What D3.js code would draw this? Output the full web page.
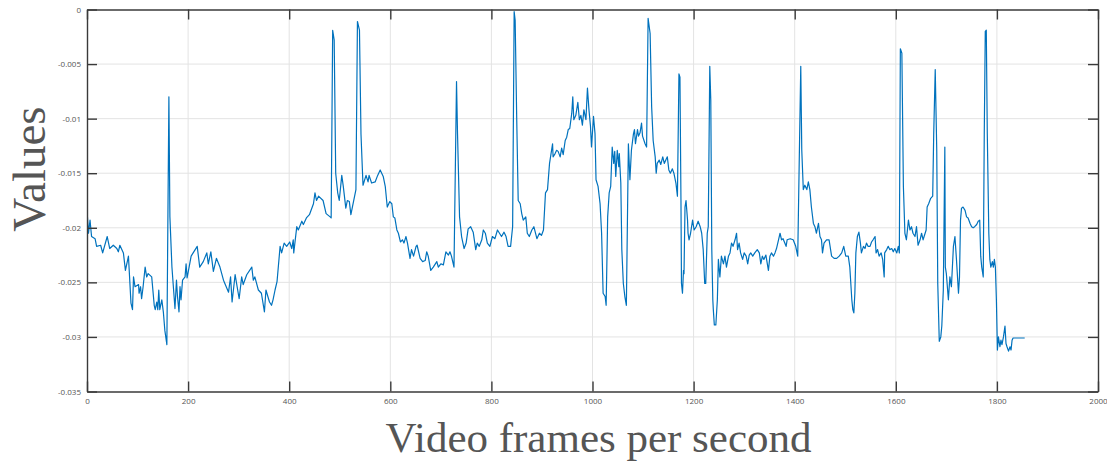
<!DOCTYPE html>
<html>
<head>
<meta charset="utf-8">
<script src="https://cdn.jsdelivr.net/npm/d3@7"></script>
<style>
  html, body { margin: 0; padding: 0; background: #fff; }
  svg { display: block; }
</style>
</head>
<body>
<div id="chart"></div>
<script>
// frame index and the value at that frame
const frames = [
  0, 3, 6, 9, 16, 19, 27, 31, 40, 45,
  52, 59, 62, 65, 72, 76, 82, 87, 90, 92,
  95, 102, 103, 106, 108, 111, 115, 118, 121, 128,
  133, 135, 138, 140, 142, 144, 148, 151, 154, 158,
  162, 164, 168, 174, 177, 179, 182, 184, 186, 189,
  194, 196, 198, 202, 206, 218, 223, 230, 237, 240,
  245, 250, 256, 263, 270, 280, 284, 287, 293, 301,
  306, 309, 316, 326, 329, 332, 339, 345, 351, 354,
  361, 365, 368, 372, 376, 382, 385, 390, 395, 401,
  405, 408, 409, 415, 418, 425, 428, 434, 440, 448,
  451, 454, 458, 467, 473, 481, 483, 486, 489, 492,
  496, 499, 504, 507, 512, 515, 519, 522, 525, 532,
  535, 539, 542, 546, 552, 556, 558, 563, 570, 575,
  580,
  586, 590, 594, 599, 603, 606, 609, 613, 616, 620,
  624, 627, 631, 634, 639, 642, 646, 651, 653, 659,
  664, 669, 672, 675, 680, 685, 692, 695, 700, 705,
  710, 715, 718, 721, 726, 731, 733, 737, 741, 746,
  750, 754, 759, 764, 769, 772, 776, 781, 784, 788,
  792, 797, 802, 807, 812, 816, 820, 825, 829, 833,
  838, 842, 845, 847, 850, 853, 857, 860, 863, 868,
  871, 875, 880, 884, 890, 895, 899, 903, 907, 911,
  915, 918, 921, 922, 926, 929, 932, 936, 939, 942,
  946, 949, 952, 955, 959, 961, 963, 967, 971, 974,
  977, 980, 983, 987, 990, 993, 996, 998, 1002, 1005,
  1007, 1011, 1015, 1018, 1021, 1025, 1027, 1030, 1033, 1036,
  1039, 1042, 1044, 1046, 1049, 1052, 1053, 1056, 1058, 1061,
  1064, 1067, 1071, 1074, 1077, 1081, 1083, 1085, 1089, 1091,
  1094, 1097, 1099, 1104, 1107, 1110, 1114, 1117, 1120, 1124,
  1126, 1128, 1132, 1135, 1139, 1142, 1145, 1148, 1151, 1154,
  1158, 1161, 1165, 1168, 1171,
  1173, 1175, 1176, 1178, 1180, 1181, 1183, 1185, 1188, 1189,
  1191, 1194, 1198, 1201, 1205, 1209, 1213, 1216, 1219, 1222,
  1224, 1227, 1229, 1232, 1234, 1236, 1238, 1239, 1241, 1244,
  1247, 1249, 1252, 1255, 1259, 1262, 1265, 1269, 1272, 1275,
  1278, 1282, 1285, 1287, 1290, 1293, 1297, 1300, 1304, 1307,
  1310, 1313, 1317, 1321, 1326, 1330, 1333, 1336, 1339, 1343,
  1348, 1351, 1354, 1358, 1361, 1364, 1368, 1371, 1374, 1377,
  1383, 1385, 1391, 1397, 1402, 1406, 1409, 1412, 1414, 1417,
  1420, 1424, 1427, 1430, 1433, 1437, 1440, 1443, 1447, 1450,
  1453, 1455, 1458, 1463, 1468, 1473, 1478, 1483, 1488, 1493,
  1497, 1501, 1506, 1509, 1513, 1515, 1517, 1519, 1521, 1524,
  1527, 1530, 1532, 1536, 1539, 1542, 1545, 1549, 1552, 1555,
  1559, 1561, 1564, 1567, 1571, 1574, 1577, 1578, 1582, 1585,
  1588, 1592, 1595, 1598, 1602, 1605, 1607, 1609, 1612, 1615,
  1618, 1621, 1625, 1628, 1631, 1634, 1638, 1641, 1644, 1648,
  1651, 1654, 1660, 1662, 1665, 1669, 1673, 1675, 1678, 1681,
  1683, 1686, 1689, 1691, 1694, 1697, 1698, 1700, 1704, 1707,
  1710, 1714, 1717, 1720, 1724, 1726, 1728, 1730, 1733, 1737,
  1740, 1743, 1747, 1750, 1753, 1756, 1760, 1763,
  1766, 1768, 1770, 1773, 1775, 1777, 1779, 1781, 1784, 1786,
  1788, 1791, 1793, 1795, 1797, 1799, 1801, 1803, 1806, 1808,
  1810, 1813, 1816, 1818, 1820, 1823, 1826, 1828, 1830, 1832,
  1855
];

const values = [
  -0.0184, -0.0205, -0.0193, -0.0208, -0.0210, -0.0217, -0.0216, -0.0223, -0.0208, -0.0219,
  -0.0216, -0.0219, -0.0222, -0.0216, -0.0223, -0.0239, -0.0226, -0.0269, -0.0275, -0.0245,
  -0.0254, -0.0252, -0.0260, -0.0254, -0.0265, -0.0254, -0.0236, -0.0245, -0.0242, -0.0245,
  -0.0271, -0.0275, -0.0268, -0.0275, -0.0257, -0.0275, -0.0266, -0.0277, -0.0294, -0.0307,
  -0.0080, -0.0190, -0.0236, -0.0274, -0.0248, -0.0263, -0.0277, -0.0254, -0.0266, -0.0248,
  -0.0245, -0.0233, -0.0246, -0.0236, -0.0226, -0.0217, -0.0236, -0.0231, -0.0223, -0.0233,
  -0.0222, -0.0240, -0.0228, -0.0236, -0.0248, -0.0259, -0.0245, -0.0268, -0.0243, -0.0265,
  -0.0245, -0.0252, -0.0243, -0.0236, -0.0248, -0.0245, -0.0257, -0.0260, -0.0277, -0.0257,
  -0.0268, -0.0271, -0.0266, -0.0257, -0.0249, -0.0217, -0.0223, -0.0214, -0.0217, -0.0213,
  -0.0219, -0.0211, -0.0223, -0.0199, -0.0202, -0.0194, -0.0197, -0.0191, -0.0188, -0.0178,
  -0.0168, -0.0175, -0.0171, -0.0175, -0.0187, -0.0190, -0.0191, -0.0019, -0.0028, -0.0150,
  -0.0168, -0.0175, -0.0152, -0.0162, -0.0182, -0.0175, -0.0176, -0.0188, -0.0181, -0.0165,
  -0.0011, -0.0019, -0.0114, -0.0161, -0.0152, -0.0158, -0.0152, -0.0159, -0.0158, -0.0152,
  -0.0147,
  -0.0153, -0.0162, -0.0181, -0.0176, -0.0178, -0.0190, -0.0191, -0.0202, -0.0205, -0.0213,
  -0.0211, -0.0214, -0.0208, -0.0214, -0.0228, -0.0220, -0.0226, -0.0217, -0.0216, -0.0228,
  -0.0231, -0.0230, -0.0222, -0.0226, -0.0239, -0.0236, -0.0231, -0.0236, -0.0233, -0.0234,
  -0.0222, -0.0225, -0.0222, -0.0226, -0.0236, -0.0066, -0.0114, -0.0190, -0.0208, -0.0219,
  -0.0214, -0.0201, -0.0199, -0.0204, -0.0220, -0.0214, -0.0217, -0.0211, -0.0202, -0.0205,
  -0.0214, -0.0217, -0.0208, -0.0210, -0.0202, -0.0205, -0.0208, -0.0204, -0.0208, -0.0217,
  -0.0217, -0.0199, -0.0002, -0.0010, -0.0098, -0.0175, -0.0178, -0.0187, -0.0193, -0.0190,
  -0.0205, -0.0208, -0.0202, -0.0199, -0.0210, -0.0205, -0.0207, -0.0202, -0.0168, -0.0165,
  -0.0141, -0.0132, -0.0123, -0.0135, -0.0132, -0.0129, -0.0130, -0.0135, -0.0127, -0.0133,
  -0.0120, -0.0117, -0.0110, -0.0109, -0.0095, -0.0080, -0.0101, -0.0097, -0.0085, -0.0101,
  -0.0097, -0.0106, -0.0092, -0.0101, -0.0072, -0.0092, -0.0107, -0.0126, -0.0098, -0.0114,
  -0.0156, -0.0162, -0.0178, -0.0205, -0.0260, -0.0263, -0.0271, -0.0190, -0.0168, -0.0162,
  -0.0126, -0.0141, -0.0130, -0.0153, -0.0129, -0.0144, -0.0132, -0.0159, -0.0220, -0.0251,
  -0.0263, -0.0271, -0.0123, -0.0156, -0.0129, -0.0114, -0.0110, -0.0123, -0.0110, -0.0116,
  -0.0113, -0.0104, -0.0116, -0.0123, -0.0126, -0.0008, -0.0022, -0.0089, -0.0120, -0.0135,
  -0.0150, -0.0141, -0.0138, -0.0142, -0.0135, -0.0141, -0.0138, -0.0135, -0.0147, -0.0150,
  -0.0146, -0.0150, -0.0159, -0.0171, -0.0059,
  -0.0062, -0.0175, -0.0251, -0.0260, -0.0239, -0.0242, -0.0181, -0.0175, -0.0193, -0.0205,
  -0.0211, -0.0205, -0.0193, -0.0202, -0.0199, -0.0194, -0.0199, -0.0205, -0.0220, -0.0251,
  -0.0251, -0.0205, -0.0199, -0.0052, -0.0083, -0.0220, -0.0266, -0.0275, -0.0289, -0.0289,
  -0.0266, -0.0229, -0.0245, -0.0226, -0.0233, -0.0226, -0.0236, -0.0226, -0.0223, -0.0214,
  -0.0217, -0.0211, -0.0205, -0.0220, -0.0214, -0.0223, -0.0229, -0.0223, -0.0226, -0.0233,
  -0.0225, -0.0223, -0.0226, -0.0223, -0.0220, -0.0223, -0.0233, -0.0226, -0.0229, -0.0225,
  -0.0239, -0.0226, -0.0223, -0.0226, -0.0223, -0.0219, -0.0211, -0.0205, -0.0211, -0.0210,
  -0.0217, -0.0211, -0.0210, -0.0211, -0.0217, -0.0226, -0.0138, -0.0052, -0.0129, -0.0165,
  -0.0161, -0.0165, -0.0158, -0.0165, -0.0181, -0.0196, -0.0199, -0.0205, -0.0196, -0.0208,
  -0.0211, -0.0223, -0.0214, -0.0211, -0.0211, -0.0226, -0.0228, -0.0228, -0.0226, -0.0223,
  -0.0217, -0.0226, -0.0226, -0.0236, -0.0266, -0.0275, -0.0278, -0.0260, -0.0223, -0.0208,
  -0.0204, -0.0214, -0.0223, -0.0217, -0.0219, -0.0214, -0.0217, -0.0217, -0.0213, -0.0211,
  -0.0208, -0.0223, -0.0220, -0.0226, -0.0223, -0.0229, -0.0245, -0.0223, -0.0220, -0.0217,
  -0.0220, -0.0219, -0.0222, -0.0219, -0.0223, -0.0217, -0.0223, -0.0036, -0.0040, -0.0162,
  -0.0205, -0.0211, -0.0193, -0.0202, -0.0199, -0.0205, -0.0208, -0.0199, -0.0216, -0.0211,
  -0.0205, -0.0211, -0.0202, -0.0181, -0.0178, -0.0173, -0.0171, -0.0114, -0.0055, -0.0129,
  -0.0251, -0.0304, -0.0300, -0.0290, -0.0257, -0.0126, -0.0236, -0.0242, -0.0266, -0.0245,
  -0.0254, -0.0217, -0.0208, -0.0229, -0.0260, -0.0245, -0.0193, -0.0182, -0.0181, -0.0184,
  -0.0190, -0.0191, -0.0196, -0.0199, -0.0200, -0.0199, -0.0197, -0.0194,
  -0.0193, -0.0226, -0.0236, -0.0245, -0.0114, -0.0020, -0.0019, -0.0114, -0.0205, -0.0229,
  -0.0236, -0.0231, -0.0236, -0.0229, -0.0236, -0.0266, -0.0312, -0.0300, -0.0309, -0.0303,
  -0.0307, -0.0300, -0.0290, -0.0306, -0.0309, -0.0313, -0.0309, -0.0312, -0.0303, -0.0301,
  -0.0301
];

const xTicks = [0, 200, 400, 600, 800, 1000, 1200, 1400, 1600, 1800, 2000];
const yTicks = [0, -0.005, -0.01, -0.015, -0.02, -0.025, -0.03, -0.035];
const xTitle = 'Video frames per second';
const yTitle = 'Values';

const W = 1107, H = 463;
const margin = { top: 9.5, right: 9, bottom: 71.5, left: 87 };
const iw = W - margin.left - margin.right;
const ih = H - margin.top - margin.bottom;

const svg = d3.select('#chart').append('svg')
  .attr('width', W)
  .attr('height', H)
  .attr('viewBox', [0, 0, W, H]);

const g = svg.append('g').attr('transform', `translate(${margin.left},${margin.top})`);

const x = d3.scaleLinear().domain([0, 2000]).range([0, iw]);
const y = d3.scaleLinear().domain([-0.035, 0]).range([ih, 0]);

// grid
g.append('g').selectAll('line').data(xTicks.slice(1, -1)).join('line')
  .attr('x1', d => x(d)).attr('x2', d => x(d))
  .attr('y1', 0).attr('y2', ih)
  .attr('stroke', '#e3e3e3').attr('stroke-width', 1);
g.append('g').selectAll('line').data(yTicks.slice(1, -1)).join('line')
  .attr('x1', 0).attr('x2', iw)
  .attr('y1', d => y(d)).attr('y2', d => y(d))
  .attr('stroke', '#e3e3e3').attr('stroke-width', 1);

// data line
svg.append('clipPath').attr('id', 'clip')
  .append('rect').attr('width', iw).attr('height', ih);

const pts = frames.map((f, i) => [f, values[i]]);
const line = d3.line().x(d => x(d[0])).y(d => y(d[1]));
g.append('path')
  .datum(pts)
  .attr('clip-path', 'url(#clip)')
  .attr('fill', 'none')
  .attr('stroke', '#0072bd')
  .attr('stroke-width', 1.2)
  .attr('stroke-linejoin', 'round')
  .attr('d', line);

// axes, ticks pointing inward, box on all sides
const fmtY = d => d === 0 ? '0' : String(+d.toFixed(3));
const tickLen = 10;

const axBottom = g.append('g').attr('transform', `translate(0,${ih})`)
  .call(d3.axisBottom(x).tickValues(xTicks).tickSizeInner(-tickLen).tickSizeOuter(0).tickPadding(7).tickFormat(d3.format('d')));
const axTop = g.append('g')
  .call(d3.axisTop(x).tickValues(xTicks).tickSizeInner(-tickLen).tickSizeOuter(0).tickFormat(''));
const axLeft = g.append('g')
  .call(d3.axisLeft(y).tickValues(yTicks).tickSizeInner(-tickLen).tickSizeOuter(0).tickPadding(6).tickFormat(fmtY));
const axRight = g.append('g').attr('transform', `translate(${iw},0)`)
  .call(d3.axisRight(y).tickValues(yTicks).tickSizeInner(-tickLen).tickSizeOuter(0).tickFormat(''));

[axBottom, axTop, axLeft, axRight].forEach(a => {
  a.select('.domain').attr('stroke', '#3a3a3a').attr('stroke-width', 1.4);
  a.selectAll('.tick line').attr('stroke', '#3a3a3a').attr('stroke-width', 1.4);
  a.selectAll('.tick text')
    .attr('fill', '#555')
    .style('font-family', '"Open Sans", sans-serif')
    .style('font-size', '8px');
});

// titles
svg.append('text')
  .attr('x', margin.left + iw / 2 + 6)
  .attr('y', 452)
  .attr('text-anchor', 'middle')
  .attr('fill', '#555')
  .style('font-family', '"Liberation Serif", "Times New Roman", serif')
  .style('font-size', '43px')
  .text(xTitle);

svg.append('text')
  .attr('transform', 'translate(45,169) rotate(-90)')
  .attr('text-anchor', 'middle')
  .attr('fill', '#555')
  .style('font-family', '"Liberation Serif", "Times New Roman", serif')
  .style('font-size', '47px')
  .text(yTitle);
</script>
</body>
</html>
